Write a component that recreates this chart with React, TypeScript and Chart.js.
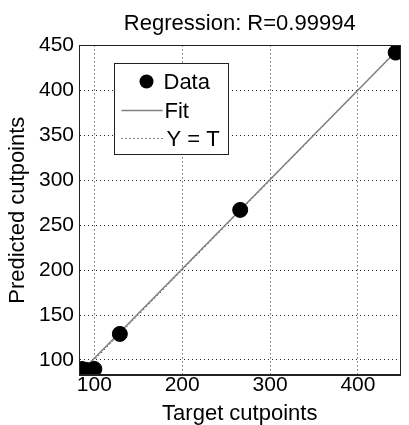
import React, { useEffect, useRef } from "react";
import { Chart, registerables } from "chart.js";

Chart.register(...registerables);

const TITLE = "Regression: R=0.99994";
const X_LABEL = "Target cutpoints";
const Y_LABEL = "Predicted cutpoints";
const LEGEND_LABELS = ["Data", "Fit", "Y = T"];

const TARGETS = [86, 91, 100, 129, 266, 443];
const OUTPUTS = [90, 89, 90, 129, 267, 442];

const FIT_X = [86, 443];
const FIT_Y = [88, 443];

const IDENTITY = [82.5, 450];

const X_MIN = 82.5;
const X_MAX = 448.5;
const Y_MIN = 83.3;
const Y_MAX = 450;

const X_TICKS = [100, 200, 300, 400];
const Y_TICKS = [100, 150, 200, 250, 300, 350, 400, 450];

const FONT = "'Liberation Sans', Arial, Helvetica, sans-serif";
const FIT_COLOR = "#7f7f7f";

const framePlugin = {
  id: "frame",
  afterDraw(chart: any) {
    const { ctx, chartArea: a } = chart;
    ctx.save();
    ctx.strokeStyle = "#222";
    ctx.lineWidth = 1;
    ctx.setLineDash([]);
    const l = Math.round(a.left) + 0.5;
    const r = Math.round(a.right) - 0.5;
    const t = Math.round(a.top) + 0.5;
    const b = Math.round(a.bottom) - 0.5;
    ctx.strokeRect(l, t, r - l, b - t);

    // legend
    const lx = Math.round(a.left) + 35.5;
    const ly = Math.round(a.top) + 18.5;
    const lw = 114;
    const lh = 91;
    ctx.fillStyle = "#fff";
    ctx.fillRect(lx, ly, lw, lh);
    ctx.strokeStyle = "#222";
    ctx.strokeRect(lx, ly, lw, lh);

    const rows = [18, 47, 75];
    const textX = lx + 49;
    ctx.font = `22px ${FONT}`;
    ctx.textBaseline = "middle";
    ctx.textAlign = "left";
    ctx.fillStyle = "#000";

    // Data
    ctx.beginPath();
    ctx.arc(lx + 32, ly + rows[0], 7, 0, Math.PI * 2);
    ctx.fill();
    ctx.fillText(LEGEND_LABELS[0], textX, ly + rows[0] + 1);

    // Fit
    ctx.strokeStyle = FIT_COLOR;
    ctx.lineWidth = 1.5;
    ctx.beginPath();
    ctx.moveTo(lx + 7, ly + rows[1]);
    ctx.lineTo(lx + 48, ly + rows[1]);
    ctx.stroke();
    ctx.fillText(LEGEND_LABELS[1], textX + 1, ly + rows[1] + 1);

    // Y = T
    ctx.strokeStyle = "#000";
    ctx.lineWidth = 1;
    ctx.setLineDash([1, 3]);
    ctx.beginPath();
    ctx.moveTo(lx + 7, ly + rows[2]);
    ctx.lineTo(lx + 48, ly + rows[2]);
    ctx.stroke();
    ctx.setLineDash([]);
    ctx.fillText(LEGEND_LABELS[2], textX + 3, ly + rows[2] + 1);
    ctx.restore();
  },
};

export default function App() {
  const ref = useRef<HTMLCanvasElement | null>(null);

  useEffect(() => {
    document.body.style.margin = "0";
    const canvas = ref.current;
    if (!canvas) return;
    const chart = new Chart(canvas, {
      type: "scatter",
      data: {
        datasets: [
          {
            label: LEGEND_LABELS[0],
            data: TARGETS.map((t, i) => ({ x: t, y: OUTPUTS[i] })),
            backgroundColor: "#000",
            borderColor: "#000",
            pointRadius: 7.5,
            pointHoverRadius: 7.5,
            showLine: false,
          },
          {
            label: LEGEND_LABELS[1],
            data: FIT_X.map((x, i) => ({ x, y: FIT_Y[i] })),
            borderColor: FIT_COLOR,
            borderWidth: 1.5,
            pointRadius: 0,
            showLine: true,
            fill: false,
          },
          {
            label: LEGEND_LABELS[2],
            data: IDENTITY.map((v) => ({ x: v, y: v })),
            borderColor: "#000",
            borderWidth: 1,
            borderDash: [1, 3],
            pointRadius: 0,
            showLine: true,
            fill: false,
          },
        ],
      },
      options: {
        animation: false,
        responsive: true,
        maintainAspectRatio: false,
        layout: { padding: { left: 0, right: 3, top: 0, bottom: 0 } },
        plugins: {
          legend: { display: false },
          tooltip: { enabled: false },
          title: {
            display: true,
            text: TITLE,
            fullSize: false,
            color: "#000",
            font: { family: FONT, size: 22, weight: "normal", lineHeight: 1.2 },
            padding: { top: 11, bottom: 8 },
          },
        },
        scales: {
          x: {
            type: "linear",
            min: X_MIN,
            max: X_MAX,
            afterBuildTicks: (s: any) => {
              s.ticks = X_TICKS.map((v) => ({ value: v }));
            },
            afterFit: (s: any) => {
              s.height = 50;
            },
            ticks: {
              color: "#000",
              padding: 0,
              maxRotation: 0,
              font: { family: FONT, size: 21, lineHeight: 1 },
            },
            grid: {
              color: "#222",
              drawTicks: false,
            },
            border: { display: true, color: "#222", dash: [1, 3] },
            title: {
              display: true,
              text: X_LABEL,
              color: "#000",
              padding: { top: 0, bottom: 0 },
              font: { family: FONT, size: 22, lineHeight: 1 },
            },
          },
          y: {
            type: "linear",
            min: Y_MIN,
            max: Y_MAX,
            afterBuildTicks: (s: any) => {
              s.ticks = Y_TICKS.map((v) => ({ value: v }));
            },
            afterFit: (s: any) => {
              s.width = 79;
            },
            ticks: {
              color: "#000",
              padding: 5,
              font: { family: FONT, size: 21, lineHeight: 1 },
            },
            grid: {
              color: "#222",
              drawTicks: false,
            },
            border: { display: true, color: "#222", dash: [1, 3] },
            title: {
              display: true,
              text: Y_LABEL,
              color: "#000",
              padding: { top: 5, bottom: 0 },
              font: { family: FONT, size: 22, lineHeight: 1.2 },
            },
          },
        },
      },
      plugins: [framePlugin],
    });
    return () => chart.destroy();
  }, []);

  return (
    <div style={{ position: "relative", width: 409, height: 425 }}>
      <canvas ref={ref} />
    </div>
  );
}
